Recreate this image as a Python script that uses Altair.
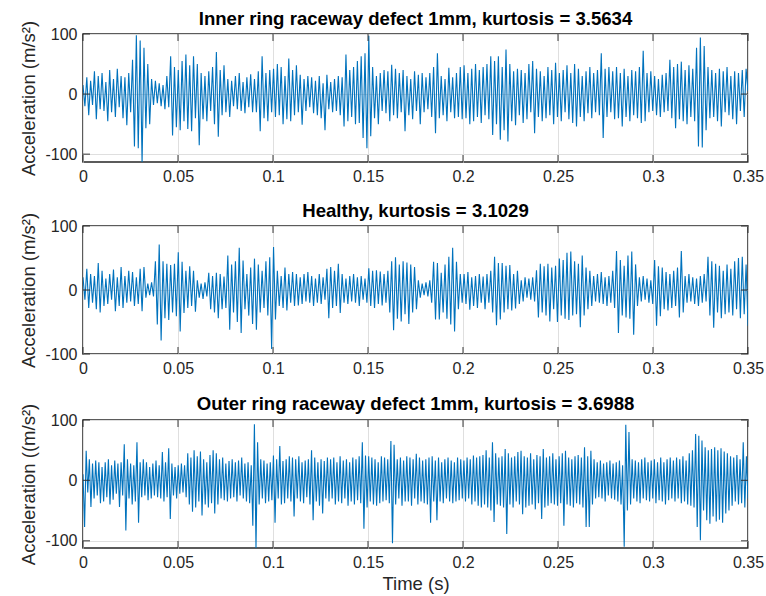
import altair as alt
import numpy as np
import pandas as pd

duration = 0.35

inner_race = [
    15, -20, 28, -35, 22, -18, 38, -42, 30, -25,
    35, -28, 20, -45, 40, -30, 25, -38, 42, -22,
    30, -40, 28, -52, 35, -30, 57, -87, 98, -90,
    89, -115, 77, -57, 50, -50, 25, -18, 22, -15,
    18, -20, 15, -25, 30, -22, 63, -69, 45, -55,
    40, -60, 55, -45, 66, -58, 48, -62, 63, -40,
    50, -85, 35, -42, 30, -45, 38, -28, 45, -50,
    70, -71, 40, -35, 48, -30, 25, -38, 22, -20,
    30, -25, 35, -28, 20, -32, 28, -22, 33, -30,
    25, -30, 38, -62, 63, -40, 35, -45, 40, -30,
    42, -38, 50, -35, 45, -50, 30, -42, 59, -45,
    40, -35, 48, -30, 32, -51, 25, -28, 30, -22,
    28, -32, 22, -35, 30, -40, 18, -60, 32, -25,
    20, -30, 25, -28, 30, -35, 28, -54, 66, -45,
    40, -38, 45, -50, 55, -48, 63, -73, 68, -90,
    97, -70, 45, -40, 30, -50, 35, -28, 40, -32,
    38, -45, 49, -35, 42, -40, 35, -30, 40, -62,
    30, -35, 25, -42, 38, -28, 32, -50, 35, -30,
    28, -25, 35, -38, 45, -65, 68, -40, 30, -35,
    25, -45, 44, -30, 28, -40, 35, -38, 45, -42,
    48, -40, 35, -50, 42, -45, 50, -38, 40, -48,
    45, -35, 50, -42, 63, -68, 55, -50, 63, -76,
    45, -60, 74, -79, 50, -45, 38, -52, 42, -35,
    40, -48, 35, -42, 50, -30, 55, -65, 42, -38,
    38, -45, 30, -40, 45, -35, 40, -50, 52, -38,
    35, -45, 40, -30, 48, -42, 35, -48, 50, -54,
    42, -38, 30, -45, 38, -32, 45, -40, 35, -30,
    40, -35, 68, -73, 42, -38, 45, -30, 38, -42,
    45, -40, 35, -54, 42, -38, 30, -45, 40, -35,
    38, -40, 45, -48, 72, -45, 35, -30, 38, -28,
    30, -35, 25, -38, 32, -30, 35, -28, 57, -40,
    45, -57, 50, -42, 54, -45, 40, -50, 48, -38,
    42, -45, 77, -87, 94, -89, 80, -60, 45, -40,
    40, -38, 35, -45, 42, -54, 38, -30, 45, -35,
    30, -42, 38, -50, 35, -28, 40, -38, 42, 5,
]

healthy = [
    20, -15, 33, -28, 25, -20, 22, -30, 42, -35,
    30, -25, 18, -22, 25, -15, 32, -33, 20, -25,
    36, -28, 22, -20, 30, -18, 28, -25, 20, -22,
    33, -33, 36, -12, 10, -8, 12, -10, 45, -54,
    71, -79, 45, -44, 41, -47, 39, -35, 41, -41,
    59, -65, 44, -36, 30, -28, 37, -25, 30, -34,
    15, -12, 10, -14, 12, -10, 27, -30, 22, -35,
    27, -44, 25, -30, 21, -28, 54, -62, 40, -35,
    45, -50, 66, -67, 46, -30, 25, -40, 35, -53,
    49, -62, 40, -35, 30, -28, 45, -40, 51, -92,
    67, -46, 30, -25, 22, -28, 35, -32, 25, -20,
    28, -25, 25, -24, 20, -22, 25, -18, 28, -20,
    22, -25, 18, -20, 25, -22, 20, -15, 33, -44,
    36, -28, 30, -25, 41, -36, 25, -20, 18, -22,
    22, -18, 25, -20, 20, -25, 22, -15, 18, -20,
    34, -25, 30, -28, 31, -22, 29, -24, 25, -20,
    30, -35, 45, -63, 51, -45, 40, -49, 45, -38,
    43, -53, 40, -35, 36, -30, 15, -12, 10, -8,
    12, -10, 15, -20, 44, -46, 42, -46, 27, -35,
    40, -45, 52, -54, 66, -65, 44, -30, 25, -20,
    25, -22, 28, -31, 20, -25, 22, -28, 25, -20,
    21, -30, 25, -20, 30, -35, 52, -55, 42, -46,
    42, -35, 38, -30, 39, -32, 25, -29, 30, -22,
    15, -18, 20, -12, 18, -15, 20, -18, 31, -43,
    41, -35, 37, -40, 41, -49, 35, -30, 38, -50,
    49, -40, 47, -45, 58, -47, 60, -40, 45, -38,
    41, -58, 54, -40, 35, -30, 30, -25, 22, -18,
    25, -20, 28, -22, 20, -25, 22, -20, 30, -28,
    61, -67, 47, -40, 38, -43, 54, -45, 60, -70,
    40, -25, 20, -18, 22, -15, 18, -20, 15, -22,
    47, -56, 37, -41, 35, -30, 28, -32, 25, -28,
    30, -25, 35, -43, 61, -35, 22, -20, 25, -18,
    20, -22, 18, -25, 22, -20, 25, -18, 52, -40,
    45, -59, 41, -35, 38, -44, 30, -38, 40, -35,
    33, -40, 45, -30, 50, -44, 52, -38, 40, -56,
]

outer_race = [
    10, -77, 49, -20, 35, -44, 28, -30, 33, -25, 30, -38,
    22, -35, 30, -28, 35, -40, 25, -32, 33, -22, 28, -44,
    30, -25, 60, -83, 35, -30, 28, -40, 25, -35, 63, -70,
    30, -28, 35, -25, 30, -33, 22, -30, 28, -25, 33, -28,
    25, -30, 47, -35, 30, -28, 53, -64, 28, -25, 22, -30,
    25, -22, 28, -20, 25, -28, 45, -40, 38, -52, 50, -45,
    40, -35, 48, -58, 35, -40, 30, -45, 42, -38, 50, -55,
    45, -40, 35, -30, 38, -33, 28, -35, 32, -30, 35, -28,
    30, -35, 33, -25, 38, -30, 28, -35, 30, -38, 25, -75,
    93, -113, 63, -40, 35, -30, 33, -38, 28, -35, 30, -33,
    41, -70, 35, -30, 57, -40, 32, -38, 35, -30, 40, -35,
    38, -60, 35, -30, 40, -35, 30, -38, 33, -28, 35, -40,
    50, -66, 38, -35, 30, -42, 35, -55, 32, -30, 38, -35,
    35, -30, 38, -40, 30, -35, 40, -38, 33, -30, 35, -42,
    30, -35, 38, -40, 35, -33, 40, -38, 63, -80, 41, -45,
    40, -35, 38, -40, 35, -42, 30, -38, 40, -35, 38, -33,
    35, -38, 65, -104, 59, -40, 35, -30, 38, -42, 33, -35,
    40, -35, 38, -42, 35, -30, 44, -40, 38, -35, 33, -38,
    35, -40, 38, -70, 40, -35, 33, -66, 38, -35, 30, -38,
    35, -30, 38, -35, 33, -38, 30, -35, 38, -33, 35, -30,
    33, -35, 38, -30, 35, -40, 41, -35, 38, -42, 40, -45,
    42, -40, 50, -45, 38, -50, 63, -69, 45, -40, 38, -42,
    40, -45, 52, -89, 45, -40, 38, -45, 40, -35, 47, -40,
    49, -56, 40, -45, 38, -42, 45, -40, 35, -48, 42, -38,
    40, -64, 52, -45, 38, -42, 40, -38, 45, -40, 35, -42,
    40, -38, 45, -75, 49, -40, 38, -42, 35, -45, 40, -38,
    42, -40, 38, -45, 55, -77, 40, -77, 49, -40, 35, -30,
    30, -28, 33, -30, 28, -35, 30, -25, 33, -30, 28, -32,
    30, -35, 33, -40, 25, -110, 92, -50, 80, -40, 35, -30,
    33, -35, 30, -38, 35, -30, 38, -33, 30, -35, 33, -30,
    35, -38, 30, -33, 38, -35, 30, -40, 35, -33, 38, -30,
    33, -35, 38, -30, 35, -38, 40, -35, 33, -40, 45, -42,
    50, -45, 77, -77, 74, -99, 66, -50, 55, -66, 50, -72,
    52, -60, 55, -68, 50, -65, 53, -70, 48, -55, 45, -50,
    40, -42, 38, -35, 42, -40, 35, -38, 63, -45, 40, -30,
]

panel_titles = [
    "Inner ring raceway defect 1mm, kurtosis = 3.5634",
    "Healthy, kurtosis = 3.1029",
    "Outer ring raceway defect 1mm, kurtosis = 3.6988",
]
y_titles = ["Acceleration (m/s²)", "Acceleration (m/s²)", "Acceleration ((m/s²)"]
y_domains = [[-113, 100], [-100, 100], [-112, 100]]
title_offsets = [-8, -8, -10]
x_ticks = [0, 0.05, 0.1, 0.15, 0.2, 0.25, 0.3, 0.35]
y_ticks = [-100, 0, 100]

W, H = 665, 128
FONT = "Liberation Sans"
INK = "#262626"
BLUE = "#0072BD"


def panel(values, title, ytitle, ydom, toff, last):
    df = pd.DataFrame({"t": np.linspace(0, duration, len(values)), "a": values})
    xaxis_kw = dict(values=x_ticks, labelExpr="'' + datum.value", grid=True,
                    labelFlush=False, labelOverlap=False, titlePadding=4)
    xaxis_kw["title"] = "Time (s)" if last else ""
    xenc = alt.X("t:Q", scale=alt.Scale(domain=[0, duration], nice=False, zero=False),
                 axis=alt.Axis(**xaxis_kw))
    yenc = alt.Y("a:Q", scale=alt.Scale(domain=ydom, nice=False, zero=False),
                 axis=alt.Axis(values=y_ticks, labelExpr="'' + datum.value", grid=True,
                               title=ytitle, labelOverlap=False))
    line = alt.Chart(df).mark_line(color=BLUE, strokeWidth=1.1, clip=True).encode(x=xenc, y=yenc)
    xt = pd.DataFrame({"t": x_ticks})
    yt = pd.DataFrame({"a": [v for v in y_ticks if ydom[0] <= v <= ydom[1]]})
    tick_style = dict(color=INK, thickness=1.3, size=7)
    top = alt.Chart(xt).mark_tick(orient="vertical", **tick_style).encode(x=xenc, y=alt.value(3.5))
    bot = alt.Chart(xt).mark_tick(orient="vertical", **tick_style).encode(x=xenc, y=alt.value(H - 3.5))
    left = alt.Chart(yt).mark_tick(orient="horizontal", **tick_style).encode(y=yenc, x=alt.value(3.5))
    right = alt.Chart(yt).mark_tick(orient="horizontal", **tick_style).encode(y=yenc, x=alt.value(W - 3.5))
    return alt.layer(line, top, bot, left, right).properties(
        width=W, height=H,
        title=alt.TitleParams(title, anchor="middle", fontSize=18.6, fontWeight="bold",
                              font=FONT, color="#000000", offset=toff),
    )


panels = [
    panel(inner_race, panel_titles[0], y_titles[0], y_domains[0], title_offsets[0], False),
    panel(healthy, panel_titles[1], y_titles[1], y_domains[1], title_offsets[1], False),
    panel(outer_race, panel_titles[2], y_titles[2], y_domains[2], title_offsets[2], True),
]

chart = (
    alt.vconcat(*panels, spacing=16)
    .configure(padding={"left": 19, "top": 9, "right": 0, "bottom": 0}, background="white")
    .configure_view(stroke=INK, strokeWidth=1.5)
    .configure_axis(labelFont=FONT, labelFontSize=16, labelColor=INK, titleFont=FONT,
                    titleFontSize=18.5, titleFontWeight="normal", titleColor=INK,
                    gridColor="#dfdfdf", gridWidth=1, domain=False, ticks=False,
                    labelPadding=6, titlePadding=6)
)

chart.save("out.html", embed_options={"renderer": "svg", "actions": False})
